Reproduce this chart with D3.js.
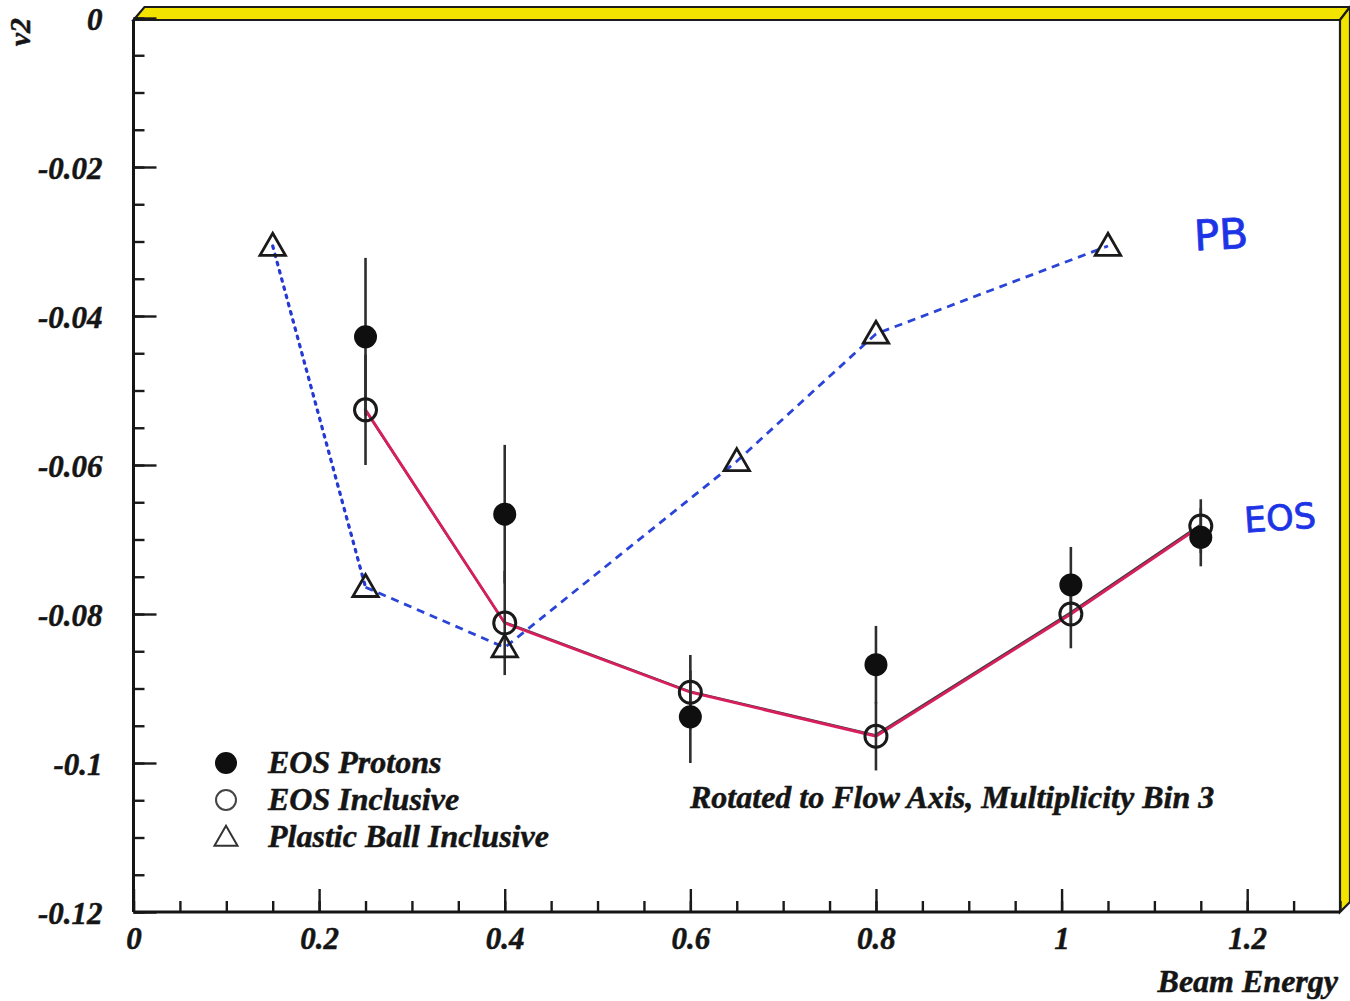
<!DOCTYPE html>
<html>
<head>
<meta charset="utf-8">
<script src="https://cdn.jsdelivr.net/npm/d3@7"></script>
<style>
  html, body { margin: 0; padding: 0; background: #ffffff; }
  svg { display: block; }
  .lbl { font-family: "Liberation Serif", "Times New Roman", serif; font-weight: bold; font-style: italic; fill: #151515; stroke: #151515; stroke-width: 0.5; }
  .hand { font-family: "DejaVu Sans", sans-serif; fill: #1d34e6; stroke: #1d34e6; stroke-width: 0.8; stroke-linejoin: round; }
</style>
</head>
<body>
<script>
// Beam energies (GeV/nucleon) and elliptic flow v2
const eosEnergy      = [0.25, 0.40, 0.60, 0.80, 1.01, 1.15];
const eosProtons     = [-0.0428, -0.0666, -0.0938, -0.0868, -0.0761, -0.0697];
const eosProtonsErr  = [0.0106, 0.0093, 0.0062, 0.0052, 0.0051, 0.0039];
const eosInclusive   = [-0.0526, -0.0812, -0.0905, -0.0964, -0.0800, -0.0682];
const eosInclErr     = [0.0074, 0.0070, 0.0050, 0.0046, 0.0046, 0.0036];
const pbEnergy       = [0.15, 0.25, 0.40, 0.65, 0.80, 1.05];
const pbInclusive    = [-0.0306, -0.0764, -0.0845, -0.0595, -0.0424, -0.0306];

const xTicks      = [0, 0.2, 0.4, 0.6, 0.8, 1.0, 1.2];
const xTickLabels = ["0", "0.2", "0.4", "0.6", "0.8", "1", "1.2"];
const yTicks      = [0, -0.02, -0.04, -0.06, -0.08, -0.10, -0.12];
const yTickLabels = ["0", "-0.02", "-0.04", "-0.06", "-0.08", "-0.1", "-0.12"];
const legendNames = ["EOS Protons", "EOS Inclusive", "Plastic Ball Inclusive"];

const W = 1350, H = 1001;
const pL = 133.5, pR = 1340, pT = 18, pB = 912;

const svg = d3.select("body").append("svg").attr("width", W).attr("height", H);

const x = d3.scaleLinear().domain([0, 1.3]).range([pL, pR]);
const y = d3.scaleLinear().domain([0, -0.12]).range([pT, pB]);

// 3-D style frame: yellow strips along the top and right edges
const frame = svg.append("g");
frame.append("path")
  .attr("d", `M${pL},${pT + 2} L${pL + 11},${pT - 11} L${pR + 10},${pT - 11} L${pR},${pT + 2} Z`)
  .attr("fill", "#f3e400").attr("stroke", "#1c1c1c").attr("stroke-width", 2.2).attr("stroke-linejoin", "miter");
frame.append("path")
  .attr("d", `M${pR},${pT + 2} L${pR + 10},${pT - 11} L${pR + 10},${pB - 10} L${pR},${pB} Z`)
  .attr("fill", "#f3e400").attr("stroke", "#1c1c1c").attr("stroke-width", 2.2);

// minor and major ticks drawn inward
const yMinor = d3.range(0, 25).map(i => -i * 0.005);
const xMinor = d3.range(0, 27).map(i => i * 0.05);

svg.append("g").attr("transform", `translate(${pL},0)`)
  .call(d3.axisLeft(y).tickValues(yMinor).tickSize(-11).tickFormat(""))
  .call(g => g.select(".domain").remove())
  .call(g => g.selectAll("line").attr("stroke", "#1a1a1a").attr("stroke-width", 2.4));

svg.append("g").attr("transform", `translate(${pL},0)`)
  .call(d3.axisLeft(y).tickValues(yTicks).tickSize(-23).tickPadding(31)
        .tickFormat((d, i) => yTickLabels[i]))
  .call(g => g.select(".domain").remove())
  .call(g => g.selectAll("line").attr("stroke", "#1a1a1a").attr("stroke-width", 2.4))
  .call(g => g.selectAll("text").attr("class", "lbl").style("font-size", "31px").attr("dy", "0.36em"));

svg.append("g").attr("transform", `translate(0,${pB})`)
  .call(d3.axisBottom(x).tickValues(xMinor).tickSize(-11).tickFormat(""))
  .call(g => g.select(".domain").remove())
  .call(g => g.selectAll("line").attr("stroke", "#1a1a1a").attr("stroke-width", 2.4));

svg.append("g").attr("transform", `translate(0,${pB})`)
  .call(d3.axisBottom(x).tickValues(xTicks).tickSize(-23).tickPadding(15)
        .tickFormat((d, i) => xTickLabels[i]))
  .call(g => g.select(".domain").remove())
  .call(g => g.selectAll("line").attr("stroke", "#1a1a1a").attr("stroke-width", 2.4))
  .call(g => g.selectAll("text").attr("class", "lbl").style("font-size", "31px"));

// axis lines
svg.append("line").attr("x1", pL).attr("x2", pL).attr("y1", pT + 2).attr("y2", pB)
  .attr("stroke", "#151515").attr("stroke-width", 3);
svg.append("line").attr("x1", pL).attr("x2", pR).attr("y1", pB).attr("y2", pB)
  .attr("stroke", "#151515").attr("stroke-width", 3);

// axis titles
svg.append("text").attr("class", "lbl").style("font-size", "30px")
  .attr("transform", `translate(30,${pT}) rotate(-90)`).attr("text-anchor", "end").text("v2");
svg.append("text").attr("class", "lbl").style("font-size", "32px")
  .attr("x", 1338).attr("y", 992).attr("text-anchor", "end").text("Beam Energy");

// Plastic Ball curve: dotted first segment, dashed afterwards
const pbPts = pbEnergy.map((e, i) => [x(e), y(pbInclusive[i])]);
const line = d3.line();
svg.append("path").attr("d", line(pbPts.slice(0, 2)))
  .attr("fill", "none").attr("stroke", "#2438d4").attr("stroke-width", 3.2)
  .attr("stroke-dasharray", "2.5,6").attr("stroke-linecap", "round");
svg.append("path").attr("d", line(pbPts.slice(1)))
  .attr("fill", "none").attr("stroke", "#2a44d8").attr("stroke-width", 2.8)
  .attr("stroke-dasharray", "8,6");

// EOS inclusive curve
const eosPts = eosEnergy.map((e, i) => [x(e), y(eosInclusive[i])]);
svg.append("path").attr("d", line(eosPts.map(p => [p[0] - 1, p[1] - 1])))
  .attr("fill", "none").attr("stroke", "#3c3c3c").attr("stroke-width", 2.2);
svg.append("path").attr("d", line(eosPts))
  .attr("fill", "none").attr("stroke", "#d81f5e").attr("stroke-width", 2.8);

// error bars
const bars = svg.append("g").attr("stroke", "#2e2e2e").attr("stroke-width", 2.6);
eosEnergy.forEach((e, i) => {
  bars.append("line").attr("x1", x(e)).attr("x2", x(e))
    .attr("y1", y(eosProtons[i] + eosProtonsErr[i])).attr("y2", y(eosProtons[i] - eosProtonsErr[i]));
  bars.append("line").attr("x1", x(e)).attr("x2", x(e))
    .attr("y1", y(eosInclusive[i] + eosInclErr[i])).attr("y2", y(eosInclusive[i] - eosInclErr[i]));
});

// markers
const tri = d3.symbol(d3.symbolTriangle, 280);
svg.append("g").selectAll("path").data(pbEnergy).join("path")
  .attr("d", tri).attr("transform", (d, i) => `translate(${x(d)},${y(pbInclusive[i]) + 2})`)
  .attr("fill", "none").attr("stroke", "#1a1a1a").attr("stroke-width", 2.8);
svg.append("g").selectAll("circle").data(eosEnergy).join("circle")
  .attr("cx", d => x(d)).attr("cy", (d, i) => y(eosInclusive[i])).attr("r", 11)
  .attr("fill", "none").attr("stroke", "#1a1a1a").attr("stroke-width", 3);
svg.append("g").selectAll("circle").data(eosEnergy).join("circle")
  .attr("cx", d => x(d)).attr("cy", (d, i) => y(eosProtons[i])).attr("r", 11.5)
  .attr("fill", "#0f0f0f");

// legend
const lg = svg.append("g");
const lx = 226, ly = [763, 800, 837];
lg.append("circle").attr("cx", lx).attr("cy", ly[0]).attr("r", 11).attr("fill", "#0f0f0f");
lg.append("circle").attr("cx", lx).attr("cy", ly[1]).attr("r", 10).attr("fill", "none")
  .attr("stroke", "#444").attr("stroke-width", 2);
lg.append("path").attr("d", d3.symbol(d3.symbolTriangle, 230))
  .attr("transform", `translate(${lx},${ly[2] + 2})`).attr("fill", "none")
  .attr("stroke", "#333").attr("stroke-width", 2);
legendNames.forEach((n, i) => {
  lg.append("text").attr("class", "lbl").style("font-size", "32px")
    .attr("x", 268).attr("y", ly[i] + 10).text(n);
});

svg.append("text").attr("class", "lbl").style("font-size", "32px")
  .attr("x", 690).attr("y", 808).text("Rotated to Flow Axis, Multiplicity Bin 3");

// hand-written annotations
svg.append("text").attr("class", "hand").style("font-size", "42px")
  .attr("x", 1194).attr("y", 249).attr("transform", "rotate(-3,1225,235)").text("PB");
svg.append("text").attr("class", "hand").style("font-size", "35px")
  .attr("x", 1244).attr("y", 530).attr("transform", "rotate(-4,1280,517)").text("EOS");
</script>
</body>
</html>
